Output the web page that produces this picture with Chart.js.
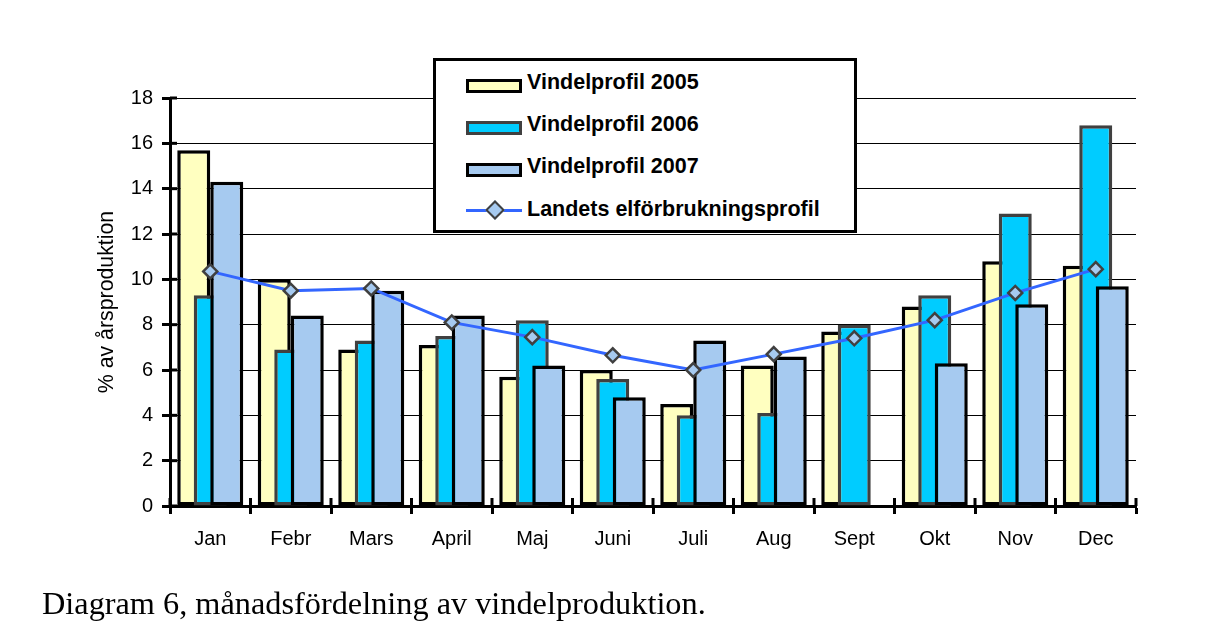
<!DOCTYPE html>
<html>
<head>
<meta charset="utf-8">
<script src="https://cdn.jsdelivr.net/npm/chart.js@4/dist/chart.umd.min.js"></script>
<style>
  html, body { margin: 0; padding: 0; background: #fff; }
  #wrap { position: relative; width: 1221px; height: 638px; background: #fff; overflow: hidden; }
  #c { position: absolute; left: 0; top: 0; }
  #legend {
    position: absolute; left: 433px; top: 58px; width: 418px; height: 169px;
    border: 3px solid #000; background: #fff;
    font-family: "Liberation Sans", Arial, sans-serif; font-weight: bold; font-size: 21.5px; color: #000;
  }
  .item { position: absolute; left: 30px; height: 30px; width: 380px; }
  .sw { position: absolute; left: 0; top: 8px; width: 50px; height: 8px; border-style: solid; border-width: 3px; }
  .lbl { position: absolute; left: 61px; top: -1px; line-height: 24px; white-space: nowrap; }
  .ln { position: absolute; left: 0; top: 10.5px; width: 56px; height: 3px; }
  .dm { position: absolute; left: 22px; top: 5px; width: 10px; height: 10px; transform: rotate(45deg); border: 2.5px solid #404040; }
  #caption {
    position: absolute; left: 42px; top: 587px; white-space: nowrap;
    font-family: "Liberation Serif", "Times New Roman", serif; font-size: 32.3px; line-height: 32px; color: #000;
  }
</style>
</head>
<body>
<div id="wrap">
  <canvas id="c" width="1221" height="638"></canvas>
  <div id="legend"></div>
  <div id="caption">Diagram 6, månadsfördelning av vindelproduktion.</div>
</div>
<script>
// ---- data ----
const months = ["Jan", "Febr", "Mars", "April", "Maj", "Juni", "Juli", "Aug", "Sept", "Okt", "Nov", "Dec"];
const profil2005 = [15.7, 10.0, 6.9, 7.1, 5.7, 6.0, 4.5, 6.2, 7.7, 8.8, 10.8, 10.6];
const profil2006 = [9.3, 6.9, 7.3, 7.5, 8.2, 5.6, 4.0, 4.1, 8.0, 9.3, 12.9, 16.8];
const profil2007 = [14.3, 8.4, 9.5, 8.4, 6.2, 4.8, 7.3, 6.6, null, 6.3, 8.9, 9.7];
const elforbrukning = [10.35, 9.5, 9.6, 8.1, 7.45, 6.65, 6.0, 6.7, 7.4, 8.2, 9.4, 10.45];
const seriesNames = ["Vindelprofil 2005", "Vindelprofil 2006", "Vindelprofil 2007", "Landets elförbrukningsprofil"];
const yTicks = [0, 2, 4, 6, 8, 10, 12, 14, 16, 18];
const yTitle = "% av årsproduktion";

const FONT = "'Liberation Sans', Arial, sans-serif";

// draw datasets in index order (later ones on top), plus inward halves of tick marks
const drawOrderPlugin = {
  id: 'drawOrder',
  beforeDatasetsDraw(chart) {
    const { ctx, chartArea, scales } = chart;
    const x = scales.x, y = scales.y;
    ctx.save();
    ctx.strokeStyle = '#000';
    ctx.lineWidth = 3;
    y.ticks.forEach((t, i) => {
      const py = y.getPixelForTick(i);
      ctx.beginPath(); ctx.moveTo(chartArea.left, py); ctx.lineTo(chartArea.left + 7, py); ctx.stroke();
    });
    const n = x.ticks.length;
    const w = (x.getPixelForValue(n - 1) - x.getPixelForValue(0)) / (n - 1);
    for (let k = 0; k <= n; k++) {
      const px = x.getPixelForValue(0) - w / 2 + k * w;
      ctx.beginPath(); ctx.moveTo(px, chartArea.bottom); ctx.lineTo(px, chartArea.bottom - 8); ctx.stroke();
    }
    ctx.restore();
    for (let i = 0; i < chart.data.datasets.length; i++) {
      const meta = chart.getDatasetMeta(i);
      if (meta.visible !== false && chart.isDatasetVisible(i)) meta.controller.draw();
    }
    return false;
  }
};

const barCommon = {
  type: 'bar',
  borderWidth: 3.5,
  borderSkipped: false,
  barPercentage: 2.0,
  categoryPercentage: 0.615
};

const chart = new Chart(document.getElementById('c'), {
  type: 'bar',
  data: {
    labels: months,
    datasets: [
      Object.assign({}, barCommon, { label: seriesNames[0], data: profil2005, backgroundColor: '#FFFFC0', borderColor: '#000000' }),
      Object.assign({}, barCommon, { label: seriesNames[1], data: profil2006, backgroundColor: '#00CCFF', borderColor: '#404040' }),
      Object.assign({}, barCommon, { label: seriesNames[2], data: profil2007, backgroundColor: '#A6CAF0', borderColor: '#000000' }),
      {
        type: 'line', label: seriesNames[3], data: elforbrukning,
        borderColor: '#3366FF', borderWidth: 3, tension: 0,
        pointStyle: 'rectRot', pointRadius: 7, pointBackgroundColor: '#A6CAF0',
        pointBorderColor: '#404040', pointBorderWidth: 2.5
      }
    ]
  },
  options: {
    responsive: false,
    devicePixelRatio: 1,
    animation: false,
    events: [],
    layout: { padding: { left: 88, top: 98, right: 85, bottom: 0 } },
    plugins: { legend: { display: false }, tooltip: { enabled: false }, title: { display: false } },
    scales: {
      x: {
        offset: true,
        grid: { offset: true, drawOnChartArea: false, drawTicks: true, tickLength: 8, tickWidth: 3, tickColor: '#000' },
        border: { display: true, width: 3, color: '#000' },
        ticks: { color: '#000', font: { family: FONT, size: 20 }, padding: 13, maxRotation: 0, autoSkip: false },
        afterFit(scale) { scale.height = 132; }
      },
      y: {
        min: yTicks[0], max: yTicks[yTicks.length - 1],
        afterBuildTicks(scale) { scale.ticks = yTicks.map(v => ({ value: v })); },
        grid: { color: '#000', lineWidth: 1, drawTicks: true, tickLength: 8, tickWidth: 3, tickColor: '#000' },
        border: { display: true, width: 3, color: '#000' },
        ticks: { color: '#000', font: { family: FONT, size: 20 }, padding: 9 },
        title: { display: true, text: yTitle, color: '#000', font: { family: FONT, size: 21.3 }, padding: { top: 6, bottom: 0 } },
        afterFit(scale) { scale.width = 82; }
      }
    }
  },
  plugins: [drawOrderPlugin]
});

// HTML legend built from the datasets
(function buildLegend() {
  const box = document.getElementById('legend');
  const rowTops = [10, 52, 94, 137];
  chart.data.datasets.forEach((ds, i) => {
    const item = document.createElement('div');
    item.className = 'item';
    item.style.top = rowTops[i] + 'px';
    if (ds.type === 'line') {
      const ln = document.createElement('div'); ln.className = 'ln'; ln.style.background = ds.borderColor; item.appendChild(ln);
      const dm = document.createElement('div'); dm.className = 'dm'; dm.style.background = ds.pointBackgroundColor; dm.style.borderColor = ds.pointBorderColor; item.appendChild(dm);
    } else {
      const sw = document.createElement('div'); sw.className = 'sw'; sw.style.background = ds.backgroundColor; sw.style.borderColor = ds.borderColor; item.appendChild(sw);
    }
    const lbl = document.createElement('div'); lbl.className = 'lbl'; lbl.textContent = ds.label; item.appendChild(lbl);
    box.appendChild(item);
  });
})();
</script>
</body>
</html>
